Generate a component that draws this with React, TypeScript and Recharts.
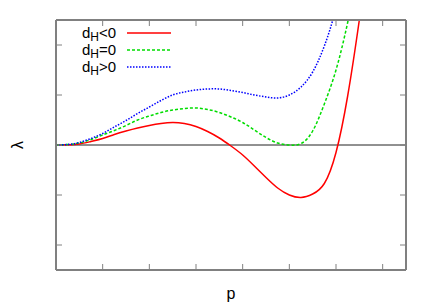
import React from "react";
import {
  LineChart,
  Line,
  XAxis,
  YAxis,
  Legend,
  ReferenceLine,
} from "recharts";

const pValues = [
  0, 0.25, 0.5, 0.75, 1, 1.25, 1.5, 1.75, 2, 2.25, 2.5, 2.75, 3, 3.25, 3.5,
  3.75, 4, 4.25, 4.5, 4.75, 5, 5.25, 5.5, 5.75, 6, 6.25, 6.5, 6.75,
];

// lambda for d_H < 0, d_H = 0, d_H > 0
const negValues = [
  0, 0.005, 0.02, 0.07, 0.13, 0.21, 0.28, 0.34, 0.39, 0.43, 0.45, 0.43, 0.37,
  0.27, 0.14, -0.02, -0.2, -0.42, -0.65, -0.86, -1.0, -1.05, -0.98, -0.77,
  -0.15, 0.98, 2.5, 4.2,
];
const zeroValues = [
  0, 0.01, 0.04, 0.11, 0.2, 0.29, 0.39, 0.5, 0.58, 0.65, 0.7, 0.73, 0.74,
  0.71, 0.65, 0.56, 0.45, 0.3, 0.15, 0.04, 0, 0.03, 0.28, 0.82, 1.5, 2.45,
  3.6, null,
];
const posValues = [
  0, 0.01, 0.05, 0.13, 0.23, 0.36, 0.49, 0.63, 0.76, 0.89, 1.0, 1.06, 1.1,
  1.12, 1.12, 1.09, 1.05, 1.0, 0.96, 0.94, 1.0, 1.16, 1.46, 1.98, 2.74, 3.8,
  null, null,
];

const xTicks = [0, 1, 2, 3, 4, 5, 6, 7];
const yTicks = [-2, -1, 0, 1, 2];

const series = [
  { key: "neg", sign: "<0", color: "#ff0000", dash: undefined },
  { key: "zero", sign: "=0", color: "#00dd00", dash: "3 2" },
  { key: "pos", sign: ">0", color: "#0000ff", dash: "1.5 1.5" },
];

const data = pValues.map((p, i) => ({
  p,
  neg: negValues[i],
  zero: zeroValues[i],
  pos: posValues[i],
}));

const FRAME = "#808080";
const FONT = "'Liberation Sans', Arial, sans-serif";

function KeyBox() {
  return (
    <div style={{ fontFamily: FONT, fontSize: 15, color: "#000" }}>
      {series.map((s) => (
        <div
          key={s.key}
          style={{ display: "flex", alignItems: "center", height: 17 }}
        >
          <div style={{ width: 46, textAlign: "right", whiteSpace: "nowrap" }}>
            d
            <span style={{ fontSize: 12, position: "relative", top: 3 }}>H</span>
            {s.sign}
          </div>
          <svg width={44} height={4} style={{ marginLeft: 11 }}>
            <line
              x1={0}
              y1={2}
              x2={44}
              y2={2}
              stroke={s.color}
              strokeWidth={1.5}
              strokeDasharray={s.dash}
            />
          </svg>
        </div>
      ))}
    </div>
  );
}

function LambdaLabel(props: any) {
  const vb = props.viewBox;
  const x = vb.x + 17;
  const y = vb.y + vb.height / 2;
  return (
    <text
      x={x}
      y={y}
      transform={`rotate(-90 ${x} ${y})`}
      textAnchor="middle"
      dominantBaseline="central"
      fontSize={16}
      fontFamily={FONT}
      fill="#000"
    >
      λ
    </text>
  );
}

const noLabel = () => <g />;

export default function App() {
  return (
    <div style={{ position: "absolute", left: 0, top: 0, background: "#fff" }}>
      <LineChart
        width={436}
        height={305}
        data={data}
        margin={{ top: 0, right: 0, bottom: 0, left: 0 }}
      >
        <XAxis
          xAxisId="b"
          dataKey="p"
          type="number"
          domain={[0, 7.5]}
          ticks={xTicks}
          allowDataOverflow
          height={35}
          tick={noLabel}
          tickSize={-6}
          axisLine={{ stroke: FRAME, strokeWidth: 2 }}
          tickLine={{ stroke: FRAME }}
          label={{
            value: "p",
            position: "insideBottom",
            offset: 6,
            fill: "#000",
            fontSize: 16,
            fontFamily: FONT,
          }}
        />
        <XAxis
          xAxisId="t"
          dataKey="p"
          type="number"
          orientation="top"
          domain={[0, 7.5]}
          ticks={xTicks}
          allowDataOverflow
          height={20}
          tick={noLabel}
          tickSize={-6}
          axisLine={{ stroke: FRAME, strokeWidth: 2 }}
          tickLine={{ stroke: FRAME }}
        />
        <YAxis
          yAxisId="l"
          type="number"
          domain={[-2.5, 2.5]}
          ticks={yTicks}
          allowDataOverflow
          width={56}
          tick={noLabel}
          tickSize={-6}
          axisLine={{ stroke: FRAME, strokeWidth: 2 }}
          tickLine={{ stroke: FRAME }}
          label={{ content: LambdaLabel }}
        />
        <YAxis
          yAxisId="r"
          orientation="right"
          type="number"
          domain={[-2.5, 2.5]}
          ticks={yTicks}
          allowDataOverflow
          width={30}
          tick={noLabel}
          tickSize={-6}
          axisLine={{ stroke: FRAME, strokeWidth: 2 }}
          tickLine={{ stroke: FRAME }}
        />
        <ReferenceLine xAxisId="b" yAxisId="l" y={0} stroke="#222" strokeWidth={1} />
        {series.map((s) => (
          <Line
            key={s.key}
            xAxisId="b"
            yAxisId="l"
            type="natural"
            dataKey={s.key}
            stroke={s.color}
            strokeWidth={1.5}
            strokeDasharray={s.dash}
            dot={false}
            activeDot={false}
            isAnimationActive={false}
          />
        ))}
        <Legend
          layout="vertical"
          align="center"
          verticalAlign="middle"
          content={() => <KeyBox />}
          wrapperStyle={{ left: 70, top: 24, width: "auto" }}
        />
      </LineChart>
    </div>
  );
}
